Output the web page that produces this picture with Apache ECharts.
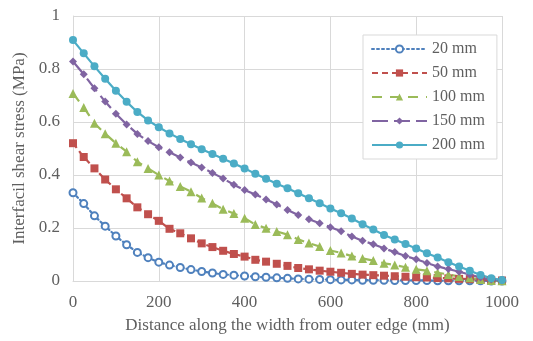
<!DOCTYPE html>
<html>
<head>
<meta charset="utf-8">
<script src="https://cdn.jsdelivr.net/npm/echarts@6/dist/echarts.min.js"></script>
<style>
html,body{margin:0;padding:0;background:#fff;}
#chart{width:533px;height:341px;}
</style>
</head>
<body>
<div id="chart"></div>
<script>
const distance = [0,25,50,75,100,125,150,175,200,225,250,275,300,325,350,375,400,425,450,475,500,525,550,575,600,625,650,675,700,725,750,775,800,825,850,875,900,925,950,975,1000];
const s20 = [0.333,0.292,0.246,0.207,0.170,0.137,0.108,0.088,0.071,0.060,0.051,0.043,0.036,0.030,0.025,0.022,0.019,0.016,0.014,0.012,0.010,0.008,0.007,0.006,0.005,0.004,0.004,0.003,0.003,0.003,0.002,0.002,0.002,0.002,0.001,0.001,0.001,0.001,0.001,0.000,0.000];
const s50 = [0.520,0.468,0.425,0.383,0.346,0.312,0.278,0.252,0.227,0.197,0.180,0.161,0.142,0.128,0.114,0.102,0.092,0.080,0.073,0.065,0.057,0.049,0.044,0.039,0.035,0.031,0.027,0.024,0.022,0.020,0.018,0.016,0.014,0.013,0.011,0.010,0.008,0.007,0.005,0.003,0.002];
const s100 = [0.708,0.655,0.595,0.556,0.520,0.488,0.450,0.425,0.400,0.377,0.357,0.337,0.313,0.293,0.271,0.255,0.237,0.213,0.199,0.187,0.175,0.157,0.143,0.130,0.115,0.106,0.094,0.085,0.077,0.067,0.060,0.052,0.044,0.039,0.031,0.025,0.017,0.012,0.006,0.002,0.001];
const s150 = [0.828,0.780,0.727,0.677,0.631,0.591,0.555,0.528,0.505,0.486,0.466,0.447,0.428,0.408,0.387,0.363,0.343,0.326,0.308,0.289,0.268,0.249,0.233,0.218,0.203,0.188,0.168,0.152,0.139,0.123,0.109,0.094,0.082,0.068,0.055,0.045,0.035,0.024,0.013,0.006,0.002];
const s200 = [0.909,0.859,0.810,0.763,0.718,0.676,0.638,0.606,0.580,0.557,0.536,0.516,0.497,0.479,0.461,0.443,0.425,0.405,0.386,0.367,0.350,0.331,0.312,0.293,0.274,0.256,0.236,0.214,0.194,0.174,0.157,0.140,0.123,0.105,0.089,0.071,0.055,0.039,0.023,0.010,0.004];
const seriesNames = ['20 mm','50 mm','100 mm','150 mm','200 mm'];
const xTitle = 'Distance along the width from outer edge (mm)';
const yTitle = 'Interfacil shear stress (MPa)';

const font = 'Liberation Serif';
const textColor = '#5f5f5f';
const gridColor = '#d9d9d9';

function pairs(vals){ return distance.map((d,i)=>[d, vals[i]]); }

const styles = [
  {data:s20, color:'#4F81BD', symbol:'emptyCircle', size:7, dash:[2,3], cap:'round'},
  {data:s50, color:'#C0504D', symbol:'rect', size:8, dash:[6,4], cap:'butt'},
  {data:s100, color:'#9BBB59', symbol:'triangle', size:9, dash:[10,8], cap:'butt'},
  {data:s150, color:'#8064A2', symbol:'diamond', size:8, dash:[16,6], cap:'butt'},
  {data:s200, color:'#4BACC6', symbol:'circle', size:8, dash:'solid', cap:'butt'}
];

const chart = echarts.init(document.getElementById('chart'), null, {renderer:'canvas'});
chart.setOption({
  animation:false,
  backgroundColor:'#fff',
  grid:{left:73, right:31, top:16, bottom:60, containLabel:false},
  legend:{
    orient:'vertical',
    left:363, top:35,
    padding:[6,12,6,8],
    backgroundColor:'#fff',
    borderColor:gridColor, borderWidth:1,
    itemWidth:55, itemHeight:9, itemGap:8,
    textStyle:{fontFamily:font, fontSize:16, lineHeight:16, color:textColor},
    data:seriesNames
  },
  xAxis:{
    type:'value', min:0, max:1000, interval:200,
    name:xTitle, nameLocation:'middle', nameGap:36,
    nameTextStyle:{fontFamily:font, fontSize:17, color:textColor},
    axisLine:{show:true, lineStyle:{color:gridColor, width:1}},
    axisTick:{show:false},
    axisLabel:{fontFamily:font, fontSize:17, color:textColor, margin:13, formatter:function(v){return String(v);}},
    splitLine:{show:true, lineStyle:{color:gridColor, width:1}}
  },
  yAxis:{
    type:'value', min:0, max:1, interval:0.2,
    name:yTitle, nameLocation:'middle', nameGap:45,
    nameTextStyle:{fontFamily:font, fontSize:17, color:textColor},
    axisLine:{show:true, lineStyle:{color:gridColor, width:1}},
    axisTick:{show:false},
    axisLabel:{fontFamily:font, fontSize:17, color:textColor, margin:13},
    splitLine:{show:true, lineStyle:{color:gridColor, width:1}}
  },
  series: styles.map((s,i)=>({
    name:seriesNames[i],
    type:'line',
    data:pairs(s.data),
    symbol:s.symbol,
    symbolSize:s.size,
    showAllSymbol:true,
    color:s.color,
    itemStyle:{color:s.color, borderColor:s.color, borderWidth: s.symbol==='emptyCircle'?1.5:0},
    lineStyle:{color:s.color, width:2.2, type:s.dash, cap:s.cap}
  }))
});
</script>
</body>
</html>
